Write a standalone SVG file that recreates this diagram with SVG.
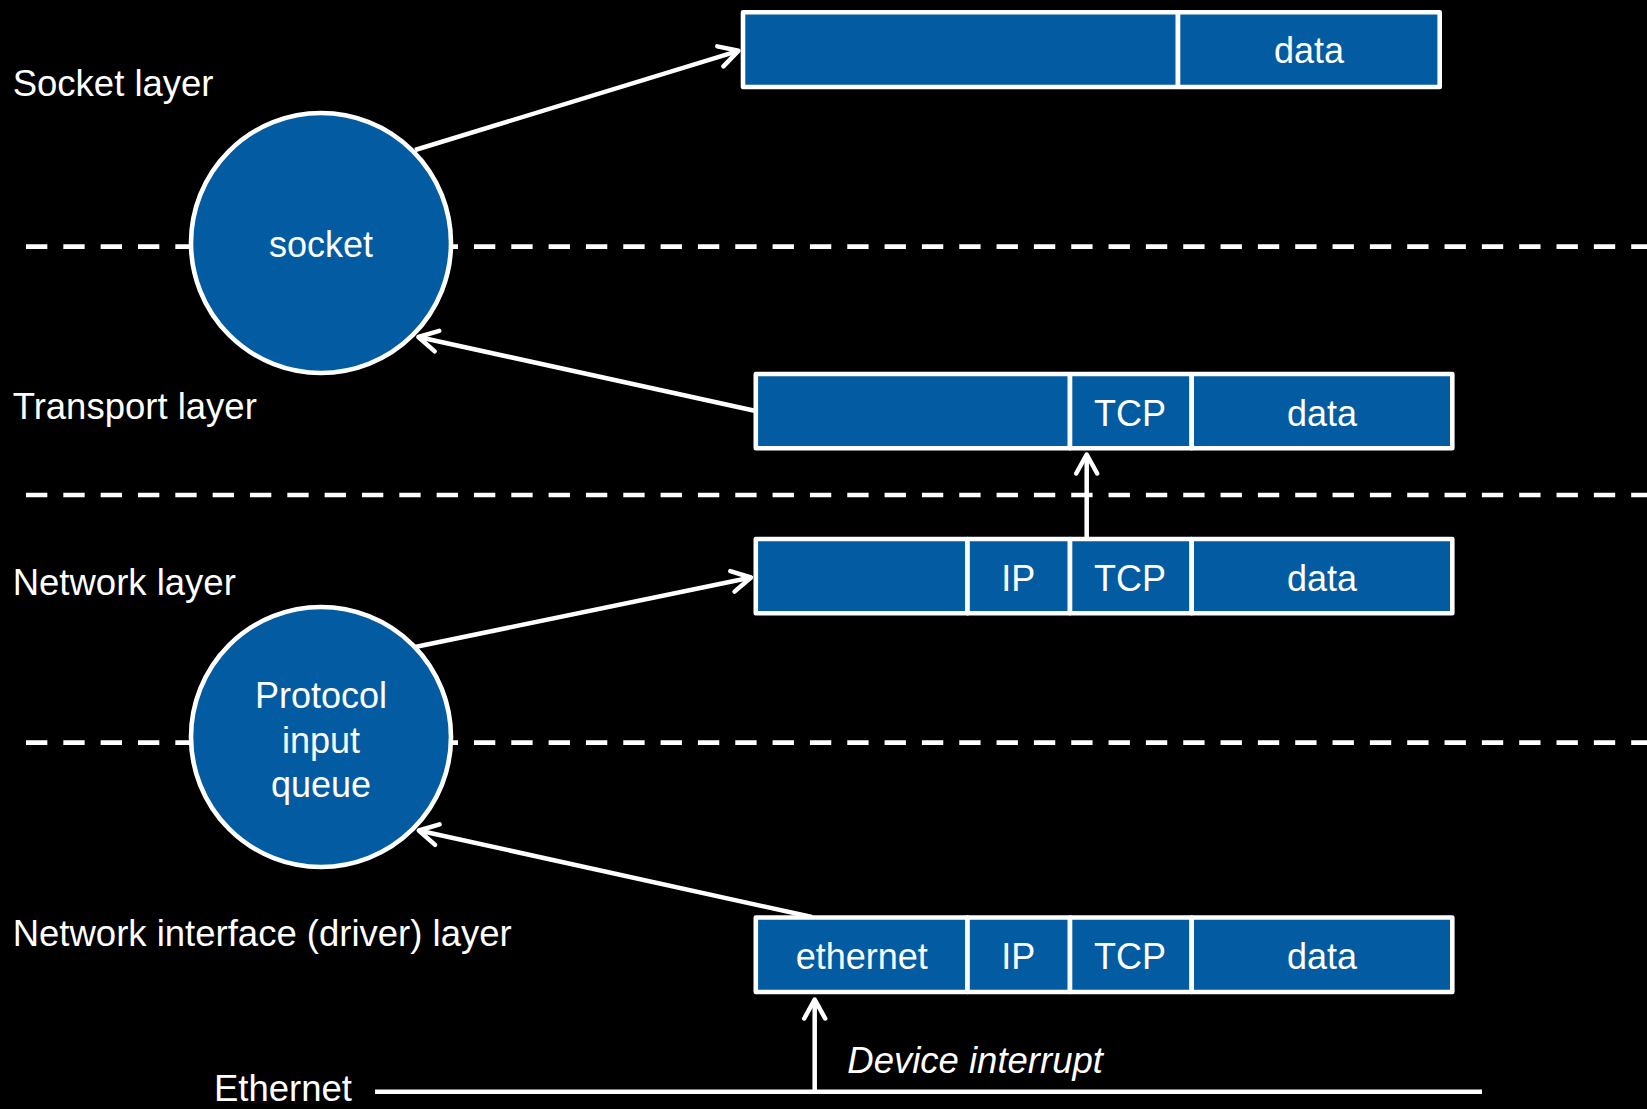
<svg xmlns="http://www.w3.org/2000/svg" width="1647" height="1109" viewBox="0 0 1647 1109">
<defs>
<style>
.bg{fill:#000}
.cell{fill:#035ba1;stroke:#fff;stroke-width:4.6;stroke-linejoin:round}
.circ{fill:#035ba1;stroke:#fff;stroke-width:4.6}
.dash{stroke:#fff;stroke-width:4.7;stroke-dasharray:21.33 16;fill:none}
.conn{stroke:#fff;stroke-width:4.5;fill:none}
.lbl{fill:#fff;font-family:"Liberation Sans",Arial,sans-serif;font-size:36.5px}
.ct{fill:#fff;font-family:"Liberation Sans",Arial,sans-serif;font-size:36px;text-anchor:middle}
.it{font-style:italic}
</style>
<marker id="ah" viewBox="-24 -14 28 28" markerUnits="userSpaceOnUse" markerWidth="28" markerHeight="28" refX="0" refY="0" orient="auto">
<path d="M -19 -10.5 L 0 0 L -19 10.5" fill="none" stroke="#fff" stroke-width="4.5" stroke-linecap="round" stroke-linejoin="round"/>
</marker>
</defs>
<rect class="bg" x="0" y="0" width="1647" height="1109"/>

<g id="layer-lines">
<line class="dash" x1="26" y1="246.7" x2="1647" y2="246.7"/>
<line class="dash" x1="26" y1="495" x2="1647" y2="495"/>
<line class="dash" x1="26" y1="742.7" x2="1647" y2="742.7"/>
</g>

<g id="layer-labels">
<text class="lbl" x="12.7" y="95.7">Socket layer</text>
<text class="lbl" x="12.7" y="419">Transport layer</text>
<text class="lbl" x="12.7" y="595">Network layer</text>
<text class="lbl" x="12.7" y="946">Network interface (driver) layer</text>
</g>

<g id="ethernet-wire">
<line x1="375" y1="1091.7" x2="1482" y2="1091.7" stroke="#fff" stroke-width="4.5"/>
<text class="lbl" x="214" y="1101">Ethernet</text>
</g>

<g id="socket">
<circle class="circ" cx="321" cy="243" r="130"/>
<text class="ct" x="321" y="257">socket</text>
</g>

<g id="protocol-input-queue">
<circle class="circ" cx="321" cy="737" r="130"/>
<text class="ct" x="321" y="708.3">Protocol</text>
<text class="ct" x="321" y="752.7">input</text>
<text class="ct" x="321" y="796.7">queue</text>
</g>

<g id="socket-buffer">
<rect class="cell" x="743" y="12.3" width="435" height="74.7"/>
<rect class="cell" x="1178" y="12.3" width="261.7" height="74.7"/>
<text class="ct" x="1309" y="63.3">data</text>
</g>

<g id="transport-packet">
<rect class="cell" x="755.8" y="374" width="314.2" height="74.3"/>
<rect class="cell" x="1070" y="374" width="121.7" height="74.3"/>
<rect class="cell" x="1191.7" y="374" width="260.6" height="74.3"/>
<text class="ct" x="1130" y="425.5">TCP</text>
<text class="ct" x="1322" y="425.5">data</text>
</g>

<g id="network-packet">
<rect class="cell" x="755.8" y="539" width="211.7" height="74.3"/>
<rect class="cell" x="967.5" y="539" width="102.5" height="74.3"/>
<rect class="cell" x="1070" y="539" width="121.7" height="74.3"/>
<rect class="cell" x="1191.7" y="539" width="260.6" height="74.3"/>
<text class="ct" x="1018.3" y="590.5">IP</text>
<text class="ct" x="1130" y="590.5">TCP</text>
<text class="ct" x="1322" y="590.5">data</text>
</g>

<g id="ethernet-frame">
<rect class="cell" x="755.8" y="917.5" width="211.7" height="74.5"/>
<rect class="cell" x="967.5" y="917.5" width="102.5" height="74.5"/>
<rect class="cell" x="1070" y="917.5" width="121.7" height="74.5"/>
<rect class="cell" x="1191.7" y="917.5" width="260.6" height="74.5"/>
<text class="ct" x="861.7" y="969.3">ethernet</text>
<text class="ct" x="1018.3" y="969.3">IP</text>
<text class="ct" x="1130" y="969.3">TCP</text>
<text class="ct" x="1322" y="969.3">data</text>
</g>

<g id="connectors">
<line class="conn" x1="415" y1="150" x2="738.5" y2="50.8" marker-end="url(#ah)"/>
<line class="conn" x1="755.8" y1="411" x2="418.4" y2="337" marker-end="url(#ah)"/>
<line class="conn" x1="415" y1="647" x2="751" y2="577.5" marker-end="url(#ah)"/>
<line class="conn" x1="812" y1="917" x2="418.8" y2="830.5" marker-end="url(#ah)"/>
<line class="conn" x1="1086.7" y1="537" x2="1086.7" y2="454.5" marker-end="url(#ah)"/>
<line class="conn" x1="814.7" y1="1092" x2="814.7" y2="999.5" marker-end="url(#ah)"/>
<text class="lbl it" x="847.3" y="1073.3">Device interrupt</text>
</g>
</svg>
